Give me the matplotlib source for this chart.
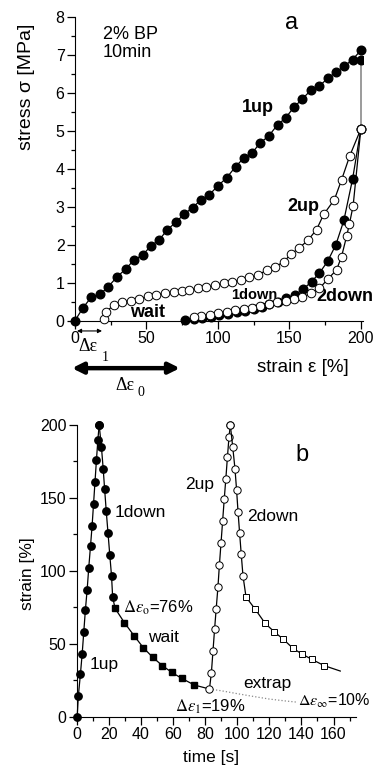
import numpy as np
import matplotlib
matplotlib.use("Agg")
import matplotlib.pyplot as plt
from matplotlib.ticker import MultipleLocator

plt.rcParams['font.family'] = ['Liberation Sans', 'DejaVu Sans']
plt.rcParams['mathtext.fontset'] = 'stix'

# ---- panel a: stress vs strain ----
up1_strain = [0, 5.4, 11.4, 17.7, 23.3, 29.6, 35.4, 41.3, 47.3, 53.1, 58.9, 64.5, 70.4,
              76.5, 82.3, 88.0, 94.0, 100.2, 106.0, 112.4, 118.2, 124.0, 129.4, 135.4,
              141.7, 147.3, 153.1, 159.0, 165.0, 170.6, 176.7, 182.3, 188.3, 194.2, 200.0]
up1_stress = [0, 0.33, 0.62, 0.70, 0.90, 1.16, 1.36, 1.60, 1.73, 1.97, 2.13, 2.39, 2.59,
              2.81, 2.98, 3.18, 3.32, 3.56, 3.76, 4.06, 4.29, 4.42, 4.68, 4.86,
              5.16, 5.34, 5.62, 5.84, 6.07, 6.17, 6.38, 6.54, 6.70, 6.88, 7.12]
relax_strain = [200.0, 200.0]
relax_stress = [6.86, 5.05]

down1_strain = [200.0, 194.2, 188.1, 182.5, 176.7, 170.9, 165.5, 159.7, 153.8, 147.6,
                142.0, 136.0, 131.0, 125.0, 119.0, 113.0, 107.0, 101.0, 95.0, 89.0, 83.0, 77.0]
down1_stress = [5.05, 3.73, 2.64, 2.00, 1.56, 1.25, 1.03, 0.83, 0.68, 0.59,
                0.50, 0.43, 0.37, 0.31, 0.26, 0.22, 0.18, 0.14, 0.11, 0.08, 0.05, 0.02]

up2_strain = [20, 22, 27, 33, 39, 45, 51, 57, 63, 69, 75, 80, 86, 92, 98, 104, 110, 116,
              122, 128, 134, 140, 146, 151, 157, 163, 169, 174, 181.5, 186.5, 192.3, 200]
up2_stress = [0.05, 0.24, 0.41, 0.48, 0.52, 0.56, 0.66, 0.69, 0.72, 0.75, 0.79, 0.82, 0.85,
              0.88, 0.93, 0.99, 1.03, 1.07, 1.14, 1.20, 1.33, 1.42, 1.55, 1.75, 1.92, 2.12,
              2.40, 2.80, 3.19, 3.71, 4.35, 5.05]

down2_strain = [200.0, 194.6, 192.0, 190.0, 186.5, 183.0, 177.0, 171.0, 165.0, 159.0, 153.0,
                147.4, 141.5, 135.8, 129.4, 123.5, 118.0, 112.0, 106.0, 100.0, 94.3, 88.5, 83.0]
down2_stress = [5.05, 3.03, 2.55, 2.22, 1.69, 1.34, 1.10, 0.85, 0.72, 0.62, 0.58,
                0.53, 0.48, 0.43, 0.40, 0.33, 0.30, 0.28, 0.24, 0.19, 0.16, 0.13, 0.10]

# ---- panel b: strain vs time ----
up1_t = [0.3, 1.0, 2.3, 3.4, 4.4, 5.4, 6.5, 7.5, 8.6, 9.6, 10.5, 11.4, 12.3, 13.2, 14.0]
up1_s = [0, 14, 29, 43, 58, 73, 87, 102, 117, 131, 146, 161, 176, 190, 200]
down1_t = [14.0, 15.4, 16.5, 17.4, 18.4, 19.5, 20.6, 21.7, 22.4]
down1_s = [200, 185, 170, 156, 141, 126, 111, 96.5, 82]
wait_t = [23.9, 29.7, 35.7, 41.5, 47.4, 53.4, 59.2, 65.4, 73.3]
wait_s = [74.3, 64.5, 55.6, 47.3, 40.7, 35.0, 30.4, 26.3, 21.7]
up2_t = [82.7, 83.9, 84.9, 85.9, 86.9, 88.0, 88.9, 89.9, 90.9, 91.9, 92.9, 93.9, 94.9, 95.7]
up2_s = [19, 30, 45, 60, 74, 89, 104, 119, 134, 149, 163, 178, 192, 200]
down2_t = [95.7, 97.2, 98.6, 99.6, 100.5, 101.5, 102.5, 103.6]
down2_s = [200, 185, 170, 155.5, 140.6, 125.8, 111.4, 96.5]
wait2_t = [105.5, 111.2, 117.4, 123.0, 128.8, 134.7, 140.3, 146.5, 154.2]
wait2_s = [82, 73.7, 64, 58.3, 53, 46.9, 43, 39.3, 35]
wait2_line_t = [154.2, 164.2]
wait2_line_s = [35, 31.3]
extrap_t = [82.7, 90, 100, 110, 120, 130, 137]
extrap_s = [19, 17.8, 15.8, 13.9, 12.1, 10.8, 10.0]

W, H = 377, 771
fig = plt.figure(figsize=(W / 100, H / 100), dpi=100)
serif = ['Liberation Serif', 'DejaVu Serif']


def px_axes(l, t, r, b):
    return fig.add_axes([l / W, 1 - b / H, (r - l) / W, (b - t) / H])


def style(ax):
    for s in ['top', 'right']:
        ax.spines[s].set_visible(False)
    ax.tick_params(which='major', direction='out', length=5.5, width=0.9, labelsize=11.5, pad=2)
    ax.tick_params(which='minor', direction='out', length=3, width=0.9)


# panel a
ax1 = px_axes(75, 17, 363, 320.7)
ax1.set_xlim(0, 201.5)
ax1.set_ylim(0, 8)
style(ax1)
ax1.xaxis.set_major_locator(MultipleLocator(50))
ax1.xaxis.set_minor_locator(MultipleLocator(25))
ax1.yaxis.set_major_locator(MultipleLocator(1))
ax1.yaxis.set_minor_locator(MultipleLocator(0.5))

ax1.plot(relax_strain, relax_stress, color='#8a8a8a', lw=1.2, zorder=2)
ax1.plot(up1_strain, up1_stress, '-o', color='black', lw=0.9, ms=6.2,
         mfc='black', mec='black', clip_on=False, zorder=3)
ax1.plot(up2_strain, up2_stress, '-o', color='black', lw=0.9, ms=6.2,
         mfc='white', mec='black', mew=0.7, clip_on=False, zorder=3)
ax1.plot(down1_strain, down1_stress, '-o', color='black', lw=0.9, ms=6.2,
         mfc='black', mec='black', clip_on=False, zorder=3)
ax1.plot(down2_strain, down2_stress, '-o', color='black', lw=0.9, ms=6.2,
         mfc='white', mec='black', mew=0.7, clip_on=False, zorder=4)
ax1.plot([200], [6.86], 'o', color='black', ms=6.2, zorder=3)

ax1.text(151.7, 7.85, 'a', fontsize=17, ha='center', va='center')
ax1.text(19.6, 7.54, '2% BP', fontsize=13, ha='left', va='center')
ax1.text(19.6, 7.06, '10min', fontsize=13, ha='left', va='center')
ax1.text(127.6, 5.61, '1up', fontsize=13, fontweight='bold', ha='center', va='center')
ax1.text(159.8, 3.0, '2up', fontsize=13, fontweight='bold', ha='center', va='center')
ax1.text(125.5, 0.68, '1down', fontsize=10.5, fontweight='bold', ha='center', va='center')
ax1.text(169.2, 0.63, '2down', fontsize=13, fontweight='bold', ha='left', va='center')
ax1.text(50.7, 0.21, 'wait', fontsize=13, fontweight='bold', ha='center', va='center')

ax1.set_xlabel('strain ε [%]', fontsize=13.5)
ax1.xaxis.set_label_coords(0.79, -0.125)
ax1.set_ylabel('stress σ [MPa]', fontsize=14)
ax1.yaxis.set_label_coords(-0.14, 0.77)

ax1.annotate('', xy=(1.4, -0.27), xytext=(18.9, -0.27), annotation_clip=False,
             arrowprops=dict(arrowstyle='<|-|>', color='black', lw=0.8,
                             mutation_scale=6, shrinkA=0, shrinkB=0))
ax1.text(2.1, -0.69, 'Δε', fontsize=13, family=serif, ha='left', va='center')
ax1.text(18.9, -0.98, '1', fontsize=10, family=serif, ha='left', va='center')
ax1.annotate('', xy=(-2.1, -1.25), xytext=(73.4, -1.25), annotation_clip=False,
             arrowprops=dict(arrowstyle='<|-|>', color='black', lw=3.2,
                             mutation_scale=16, shrinkA=0, shrinkB=0))
ax1.text(28, -1.72, 'Δε', fontsize=13, family=serif, ha='left', va='center')
ax1.text(43.4, -1.88, '0', fontsize=10, family=serif, ha='left', va='center')

# panel b
ax2 = px_axes(76.7, 425, 356, 716.7)
ax2.set_xlim(0, 174)
ax2.set_ylim(0, 200)
style(ax2)
ax2.xaxis.set_major_locator(MultipleLocator(20))
ax2.xaxis.set_minor_locator(MultipleLocator(10))
ax2.yaxis.set_major_locator(MultipleLocator(50))
ax2.yaxis.set_minor_locator(MultipleLocator(25))

ax2.plot(extrap_t, extrap_s, ':', color='#8a8a8a', lw=0.9, zorder=2)
ax2.plot(up1_t, up1_s, '-o', color='black', lw=0.9, ms=5.3, clip_on=False, zorder=3)
ax2.plot(down1_t, down1_s, '-o', color='black', lw=0.9, ms=5.3, clip_on=False, zorder=3)
ax2.plot([down1_t[-1], wait_t[0]], [down1_s[-1], wait_s[0]], '-', color='black', lw=0.9)
ax2.plot(wait_t, wait_s, '-s', color='black', lw=0.9, ms=4.6, zorder=3)
ax2.plot([wait_t[-1], up2_t[0]], [wait_s[-1], up2_s[0]], '-', color='black', lw=0.9)
ax2.plot(up2_t, up2_s, '-o', color='black', lw=0.9, ms=5.3, mfc='white', mew=0.7,
         clip_on=False, zorder=3)
ax2.plot(down2_t, down2_s, '-o', color='black', lw=0.9, ms=5.3, mfc='white', mew=0.7,
         clip_on=False, zorder=3)
ax2.plot([down2_t[-1], wait2_t[0]], [down2_s[-1], wait2_s[0]], '-', color='black', lw=0.9)
ax2.plot(wait2_t, wait2_s, '-s', color='black', lw=0.9, ms=4.6, mfc='white', mew=0.7,
         zorder=3)
ax2.plot(wait2_line_t, wait2_line_s, '-', color='black', lw=0.9)

ax2.text(140.3, 179.5, 'b', fontsize=17, ha='center', va='center')
ax2.text(23.9, 139.7, '1down', fontsize=12.5, ha='left', va='center')
ax2.text(67.5, 158.9, '2up', fontsize=12.5, ha='left', va='center')
ax2.text(106.2, 137, '2down', fontsize=12.5, ha='left', va='center')
ax2.text(28.9, 74.6, r'$\Delta\varepsilon_{\rm o}$=76%', fontsize=12, ha='left', va='center')
ax2.text(44.5, 54, 'wait', fontsize=12.5, ha='left', va='center')
ax2.text(8.3, 35.5, '1up', fontsize=12.5, ha='left', va='center')
ax2.text(103.7, 23.1, 'extrap', fontsize=12.5, ha='left', va='center')
ax2.text(61.3, 6.6, r'$\Delta\varepsilon_1$=19%', fontsize=12, ha='left', va='center')
ax2.text(138.0, 10.8, r'$\Delta\varepsilon_\infty$=10%', fontsize=11.5, ha='left', va='center')

ax2.set_xlabel('time [s]', fontsize=12.5)
ax2.xaxis.set_label_coords(0.481, -0.115)
ax2.set_ylabel('strain [%]', fontsize=12.5)
ax2.yaxis.set_label_coords(-0.15, 0.49)

fig.savefig('out.png', dpi=100)
